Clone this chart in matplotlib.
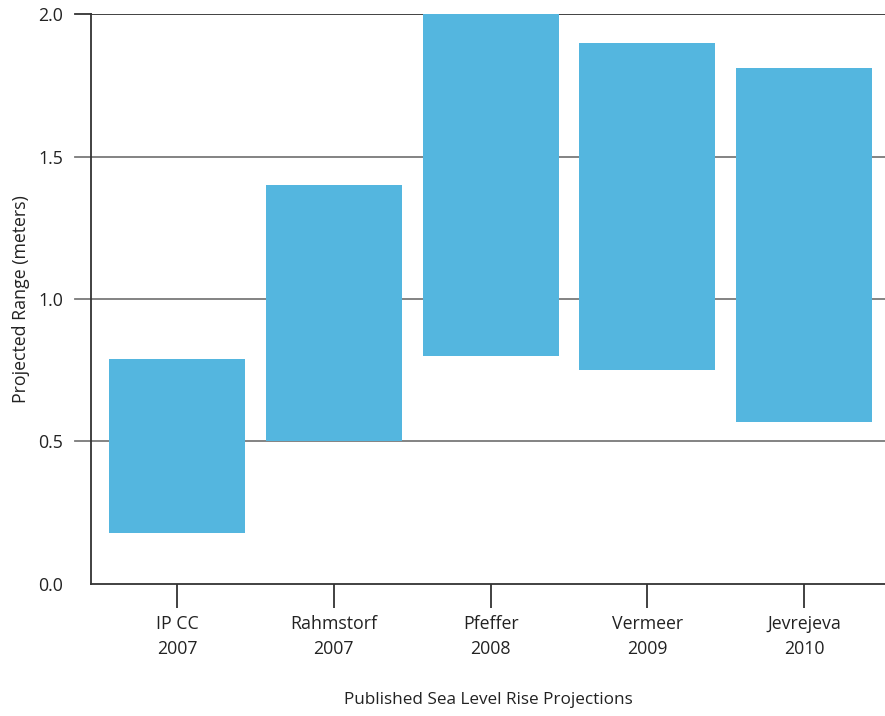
import matplotlib
matplotlib.use("Agg")
import matplotlib.pyplot as plt

plt.rcParams['font.family'] = ['Open Sans', 'DejaVu Sans']

# veriler
studies = ["IP CC\n2007", "Rahmstorf\n2007", "Pfeffer\n2008", "Vermeer\n2009", "Jevrejeva\n2010"]
low = [0.18, 0.50, 0.80, 0.75, 0.57]
high = [0.79, 1.40, 2.00, 1.90, 1.81]
yticks = [0.0, 0.5, 1.0, 1.5, 2.0]

fig = plt.figure(figsize=(8.85, 7.16), dpi=100)
ax = fig.add_axes([0.1028, 0.1844, 0.8972, 0.796])

x = list(range(len(studies)))
heights = [h - l for h, l in zip(high, low)]
ax.bar(x, heights, bottom=low, width=0.868, color='#54b6df', zorder=3)

ax.set_xlim(-0.55, 4.517)
ax.set_ylim(0, 2.0)

# yatay cizgiler
for v in yticks[1:]:
    c = '#333333' if v == 2.0 else '#7a7a7a'
    ax.axhline(v, color=c, lw=1.3, zorder=1)
    ax.plot([-0.02, 0], [v, v], transform=ax.get_yaxis_transform(),
            color=c, lw=1.3, clip_on=False)

ax.set_yticks(yticks)
ax.set_yticklabels([f"{v:.1f}" for v in yticks], fontsize=12.8, color='#222222')
ax.tick_params(axis='y', length=0, pad=20)
ax.set_xticks(x)
ax.set_xticklabels(studies, fontsize=12.8, color='#222222', linespacing=1.55)
ax.tick_params(axis='x', length=17, width=1.3, color='#333333', pad=5)

for s in ['top', 'right']:
    ax.spines[s].set_visible(False)
for s in ['left', 'bottom']:
    ax.spines[s].set_color('#333333')
    ax.spines[s].set_linewidth(1.3)

ax.set_ylabel("Projected Range (meters)", fontsize=12.8, color='#222222', labelpad=6)
ax.set_xlabel("Published Sea Level Rise Projections", fontsize=12.3, color='#222222', labelpad=24)

fig.savefig("out.png", dpi=100)
